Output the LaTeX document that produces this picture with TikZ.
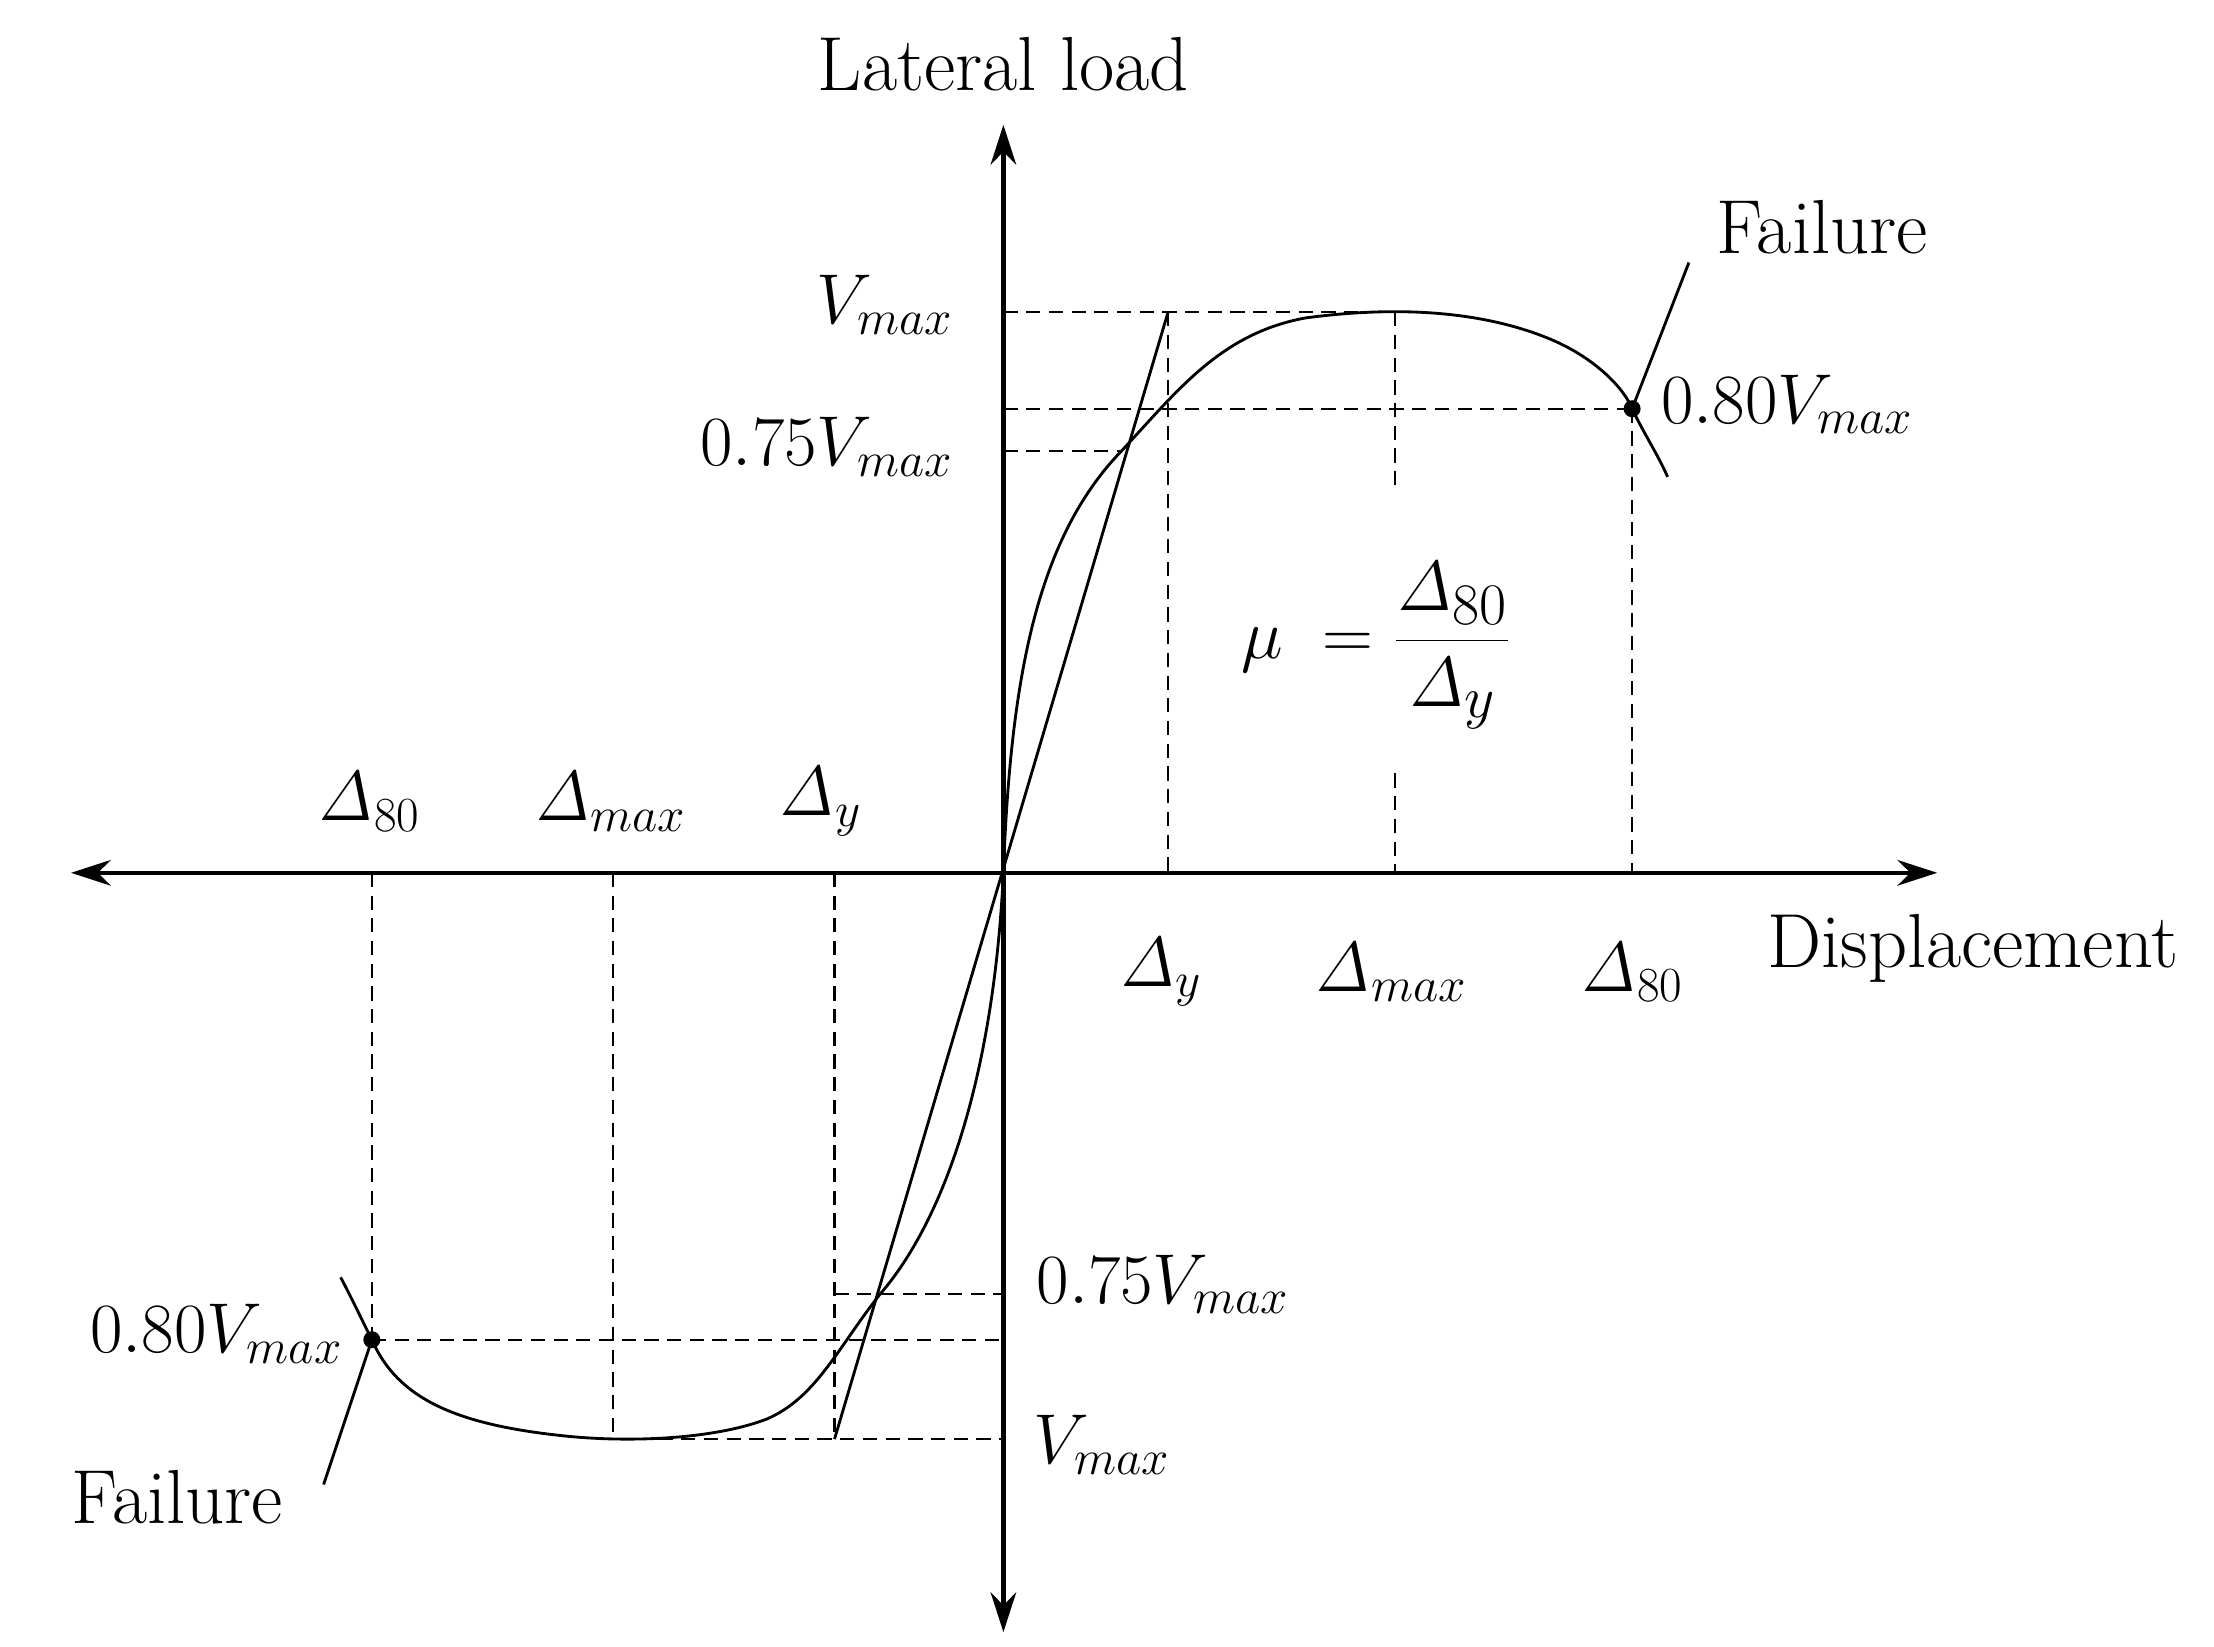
\documentclass[tikz,border=0pt]{standalone}
\usetikzlibrary{arrows.meta}
\begin{document}
\begin{tikzpicture}[x=0.5pt,y=-0.5pt,
  lbl/.style={font=\fontsize{27}{32}\selectfont, inner sep=1pt},
  dsh/.style={dashed, line width=0.8pt, dash pattern=on 5pt off 3pt},
  axis/.style={line width=1.6pt, {Stealth[length=14pt,width=9pt]}-{Stealth[length=14pt,width=9pt]}},
  crv/.style={line width=1pt}]
\useasboundingbox (0,0) rectangle (1560,1160);
\coordinate (O) at (707,615);
\coordinate (yt) at (707,88); \coordinate (yb) at (707,1150);
\coordinate (xl) at (50,615); \coordinate (xr) at (1365,615);
\draw[axis] (yb) -- (yt);
\draw[axis] (xl) -- (xr);
% positive dashed
\draw[dsh] (707,220) -- (983,220);
\draw[dsh] (707,288) -- (1150,288);
\draw[dsh] (707,318) -- (790,318);
\draw[dsh] (823,220) -- (823,615);
\draw[dsh] (983,220) -- (983,342);
\draw[dsh] (983,545) -- (983,615);
\draw[dsh] (1150,288) -- (1150,615);
% negative dashed
\draw[dsh] (588,912) -- (707,912);
\draw[dsh] (262,944) -- (707,944);
\draw[dsh] (432,1014) -- (707,1014);
\draw[dsh] (262,615) -- (262,944);
\draw[dsh] (432,615) -- (432,1014);
\draw[dsh] (588,615) -- (588,1014);
% linear
\coordinate (L1) at (588,1014); \coordinate (L2) at (823,220);
\draw[crv] (L1) -- (L2);
% curves
\draw[crv] (O) .. controls (712,480) and (730,380) .. (790,318)
  .. controls (830,275) and (860,235) .. (920,224)
  .. controls (980,216) and (1040,218) .. (1090,238)
  .. controls (1125,252) and (1145,275) .. (1150,288)
  .. controls (1158,305) and (1168,320) .. (1175,336);
\draw[crv] (O) .. controls (700,760) and (665,860) .. (620,912)
  .. controls (590,950) and (575,985) .. (540,1000)
  .. controls (500,1015) and (440,1016) .. (400,1012)
  .. controls (320,1004) and (280,985) .. (262,944)
  .. controls (255,930) and (248,915) .. (240,900);
\coordinate (F1) at (1150,288); \coordinate (F2) at (262,944);
\coordinate (f1) at (1190,185); \coordinate (f2) at (228,1046);
\draw[crv] (F1) -- (f1);
\draw[crv] (F2) -- (f2);
\fill (F1) circle (3pt); \fill (F2) circle (3pt);
% labels
\node[lbl] (ll) at (707,45) {Lateral load};
\node[lbl,anchor=east] (v1) at (674,215) {$V_{max}$};
\node[lbl,anchor=east] (v2) at (674,315) {$0.75V_{max}$};
\node[lbl,anchor=west] (v3) at (1168,285) {$0.80V_{max}$};
\node[lbl] (fa1) at (1284,160) {Failure};
\node[lbl] (d1) at (818,685) {$\mathit{\Delta}_y$};
\node[lbl] (d2) at (980,685) {$\mathit{\Delta}_{max}$};
\node[lbl] (d3) at (1150,685) {$\mathit{\Delta}_{80}$};
\node[lbl] (dis) at (1390,668) {Displacement};
\node[lbl] (n1) at (260,565) {$\mathit{\Delta}_{80}$};
\node[lbl] (n2) at (430,565) {$\mathit{\Delta}_{max}$};
\node[lbl] (n3) at (578,565) {$\mathit{\Delta}_y$};
\node[lbl,anchor=west] (v4) at (728,905) {$0.75V_{max}$};
\node[lbl,anchor=west] (v5) at (726,1018) {$V_{max}$};
\node[lbl,anchor=east] (v6) at (244,940) {$0.80V_{max}$};
\node[lbl] (fa2) at (125,1055) {Failure};
\node[lbl,font=\fontsize{31}{36}\selectfont] (mu) at (970,455) {$\mu\;=\displaystyle\frac{\mathit{\Delta}_{80}}{\mathit{\Delta}_y}$};
\end{tikzpicture}
\end{document}
